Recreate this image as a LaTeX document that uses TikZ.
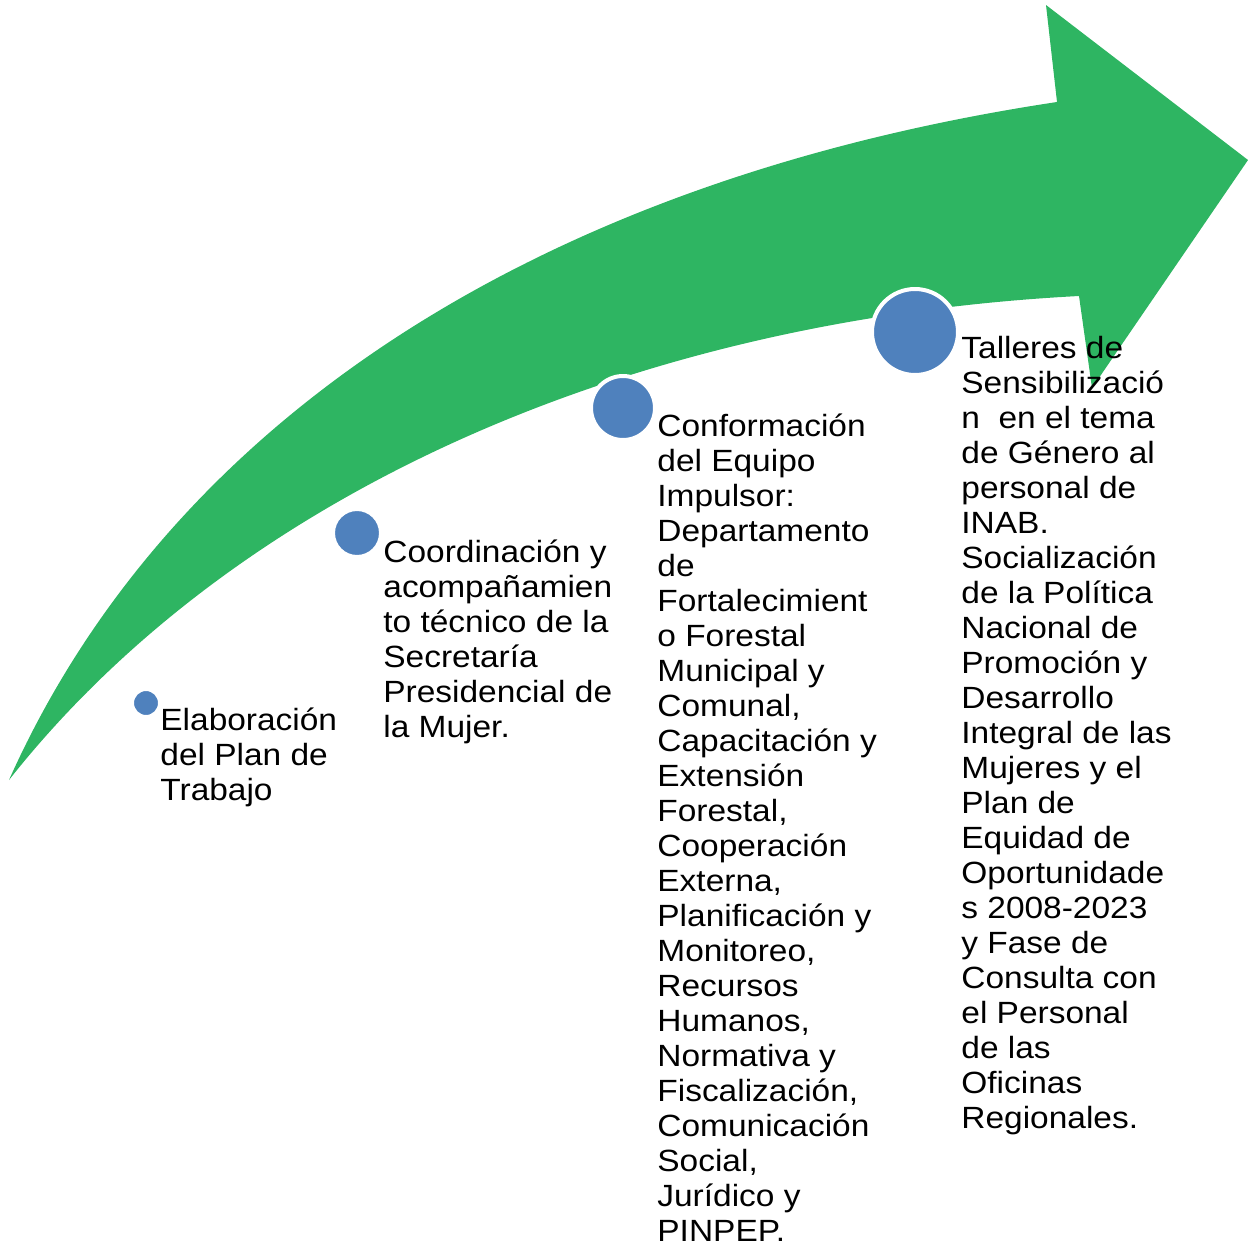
\documentclass[tikz,border=0pt]{standalone}
\usepackage{fontspec}
\setmainfont{Liberation Sans}[FakeStretch=1.09]
\usetikzlibrary{shapes,backgrounds}

\definecolor{flechagreen}{RGB}{46,181,98}
\definecolor{hitoblue}{RGB}{79,129,189}

\newcommand{\lineas}[1]{\begin{tabular}[t]{@{}l@{}}#1\end{tabular}}

\tikzset{
  hito/.style={circle,fill=hitoblue,draw=white,line width=2pt,inner sep=0pt},
  rotulo/.style={anchor=base west,inner sep=0pt,
    font=\fontsize{15.35}{17.5}\selectfont}
}

\begin{document}
\begin{tikzpicture}[x=0.5pt,y=-0.5pt]

  \def\flecha{(9,780) .. controls (170,420) and (540,180) .. (1057,102)
    -- (1046,5) -- (1248,160) -- (1092,388) -- (1079,296)
    .. controls (620,320) and (230,500) .. cycle}

  \useasboundingbox (0,0) rectangle (1248,1243);

  \begin{scope}
      \fill[flechagreen] \flecha;

      \node[hito,minimum size=14pt] (c1) at (146,703) {};
      \node[hito,minimum size=24pt] (c2) at (357,533) {};
      \node[hito,minimum size=32pt] (c3) at (623,408) {};
      \node[hito,minimum size=43pt] (c4) at (915,332) {};

      \node[rotulo] (t1) at (160,730) {\lineas{Elaboración\\del Plan de\\Trabajo}};
      \node[rotulo] (t2) at (383,562) {\lineas{Coordinación y\\acompañamien\\to técnico de la\\Secretaría\\Presidencial de\\la Mujer.}};
      \node[rotulo] (t3) at (657,436) {\lineas{Conformación\\del Equipo\\Impulsor:\\Departamento\\de\\Fortalecimient\\o Forestal\\Municipal y\\Comunal,\\Capacitación y\\Extensión\\Forestal,\\Cooperación\\Externa,\\Planificación y\\Monitoreo,\\Recursos\\Humanos,\\Normativa y\\Fiscalización,\\Comunicación\\Social,\\Jurídico y\\PINPEP.}};
      \node[rotulo] (t4) at (961,358) {\lineas{Talleres de\\Sensibilizació\\n\ \ en el tema\\de Género al\\personal de\\INAB.\\Socialización\\de la Política\\Nacional de\\Promoción y\\Desarrollo\\Integral de las\\Mujeres y el\\Plan de\\Equidad de\\Oportunidade\\s 2008-2023\\y Fase de\\Consulta con\\el Personal\\de las\\Oficinas\\Regionales.}};
  \end{scope}

\end{tikzpicture}
\end{document}
